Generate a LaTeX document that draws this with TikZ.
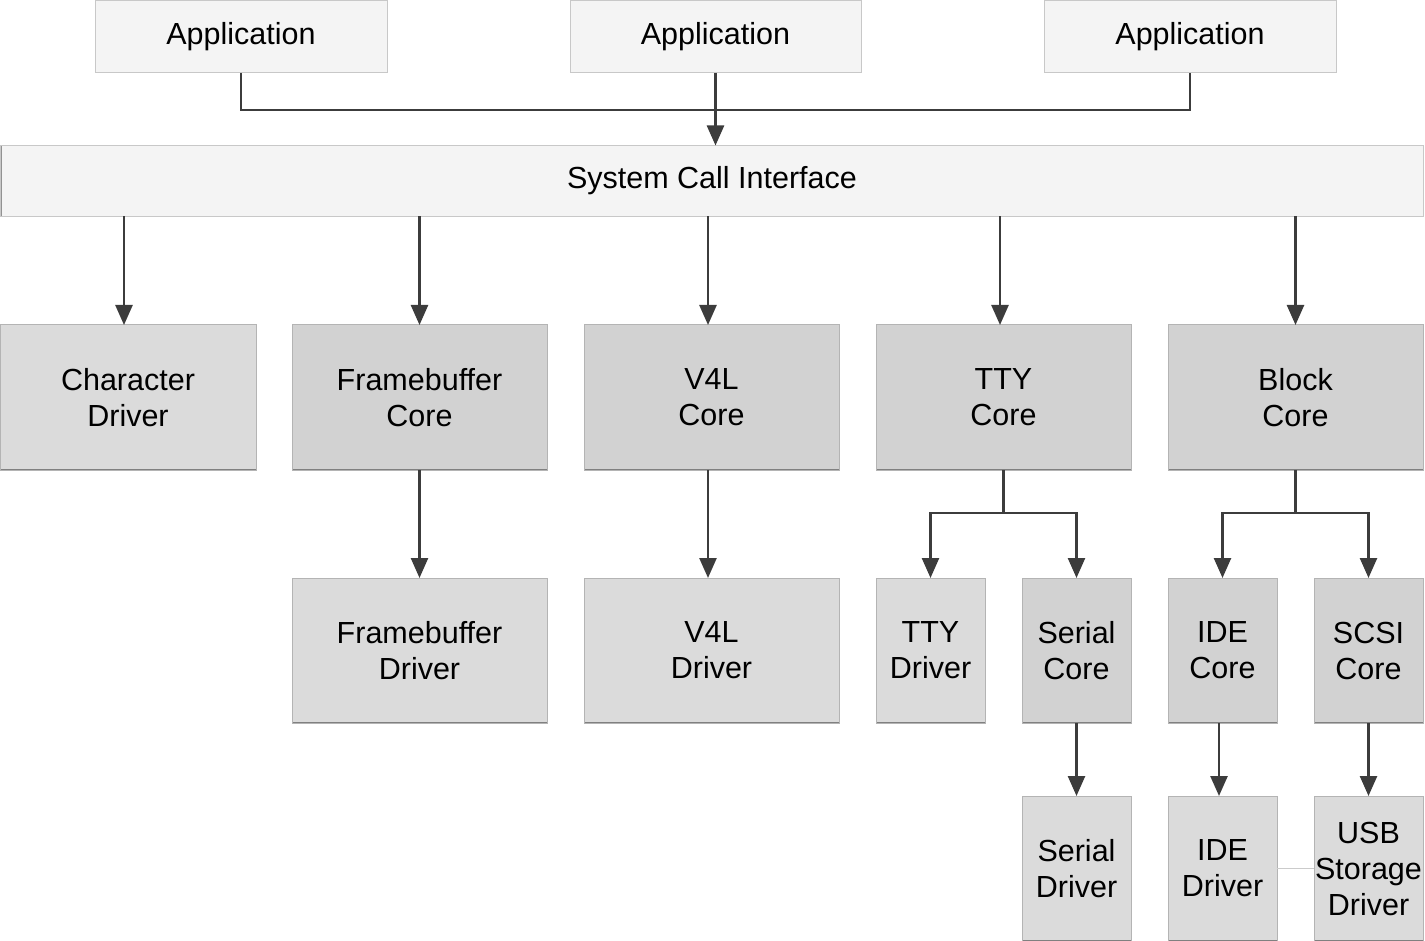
\documentclass[tikz,border=0pt]{standalone}
\usepackage{fontspec}
\setmainfont{Liberation Sans}
\usetikzlibrary{arrows.meta}
\definecolor{appfill}{HTML}{F4F4F4}
\definecolor{corefill}{HTML}{D2D2D2}
\definecolor{drvfill}{HTML}{DBDBDB}
\definecolor{edge}{HTML}{B4B4B4}
\definecolor{edgedark}{HTML}{808080}
\definecolor{wire}{HTML}{3C3C3C}
\tikzset{
  box/.style={draw=edge, line width=1pt, inner sep=0pt, outer sep=0pt, align=center,
    font=\fontsize{30.5}{36}\selectfont},
  shaded/.style={path picture={\draw[edgedark, line width=2pt]
      (path picture bounding box.north west) -- (path picture bounding box.south west)
      -- (path picture bounding box.south east);}},
  app/.style={box, fill=appfill, draw=appfill!82!black, minimum height=72pt,
    path picture={\draw[appfill!60!black, line width=2pt]
      (path picture bounding box.north west) -- (path picture bounding box.south west);}},
  core/.style={box, shaded, fill=corefill, minimum height=145pt},
  drv/.style={box, shaded, fill=drvfill, minimum height=145pt},
  wide/.style={minimum width=255pt},
  slim/.style={minimum width=109pt},
  link/.style={draw=wire, line width=2.5pt, -{Triangle[width=17pt,length=20pt]}},
  plain/.style={draw=wire, line width=2.5pt}
}
\begin{document}
\begin{tikzpicture}[x=1pt, y=-1pt]
  \useasboundingbox (0,0) rectangle (1425,941);
  \draw
    (241,37) node[app, minimum width=292pt] (app1){Application}
    (715.5,37) node[app, minimum width=291pt] (app2){Application}
    (1190,37) node[app, minimum width=292pt] (app3){Application}
    (712,181) node[app, minimum width=1423pt, minimum height=71pt] (sys){System Call Interface};
  \draw
    (128,397.5) node[drv, minimum width=256pt] (chr){Character\\Driver}
    (419.5,397.5) node[core, wide] (fbc){Framebuffer\\Core}
    (711.5,397.5) node[core, wide] (v4lc){V4L\\Core}
    (1003.5,397.5) node[core, wide] (ttyc){TTY\\Core}
    (1295.5,397.5) node[core, wide] (blkc){Block\\Core};
  \draw
    (419.5,650.5) node[drv, wide] (fbd){Framebuffer\\Driver}
    (711.5,650.5) node[drv, wide] (v4ld){V4L\\Driver}
    (930.5,650.5) node[drv, slim] (ttyd){TTY\\Driver}
    (1076.5,650.5) node[core, slim] (serc){Serial\\Core}
    (1222.5,650.5) node[core, slim] (idec){IDE\\Core}
    (1368.5,650.5) node[core, slim] (scsic){SCSI\\Core};
  \draw
    (1076.5,868.5) node[drv, slim] (serd){Serial\\Driver}
    (1222.5,868.5) node[drv, slim] (ided){IDE\\Driver}
    (1368.5,868.5) node[drv, slim] (usbd){USB\\Storage\\Driver};
  % applications down to the system call layer
  \coordinate (join) at (715.5,110);
  \begin{scope}
    \draw[plain] (app1.south) |- (join);
    \draw[plain] (app3.south) |- (join);
    \draw[link] (app2.south) -- (sys.north -| app2.south);
  \end{scope}
  % system call layer to the subsystems
  \begin{scope}
    \draw[link] (sys.south -| 124,0) -- (chr.north -| 124,0);
    \draw[link] (sys.south -| fbc.north) -- (fbc.north);
    \draw[link] (sys.south -| 708,0) -- (v4lc.north -| 708,0);
    \draw[link] (sys.south -| 1000,0) -- (ttyc.north -| 1000,0);
    \draw[link] (sys.south -| blkc.north) -- (blkc.north);
  \end{scope}
  % cores down to drivers
  \coordinate (ttyfork) at (1003.5,513);
  \coordinate (blkfork) at (1295.5,513);
  \begin{scope}
    \draw[link] (fbc.south) -- (fbd.north);
    \draw[link] (v4lc.south -| 708,0) -- (v4ld.north -| 708,0);
    \draw[plain] (ttyc.south) -- (ttyfork);
    \draw[link] (ttyfork) -| (ttyd.north);
    \draw[link] (ttyfork) -| (serc.north);
    \draw[plain] (blkc.south) -- (blkfork);
    \draw[link] (blkfork) -| (idec.north);
    \draw[link] (blkfork) -| (scsic.north);
    \draw[link] (serc.south) -- (serd.north);
    \draw[link] (idec.south -| 1219,0) -- (ided.north -| 1219,0);
    \draw[link] (scsic.south) -- (usbd.north);
    \draw[draw=edge!70, line width=1pt] (ided.east) -- (usbd.west);
  \end{scope}
\end{tikzpicture}
\end{document}
